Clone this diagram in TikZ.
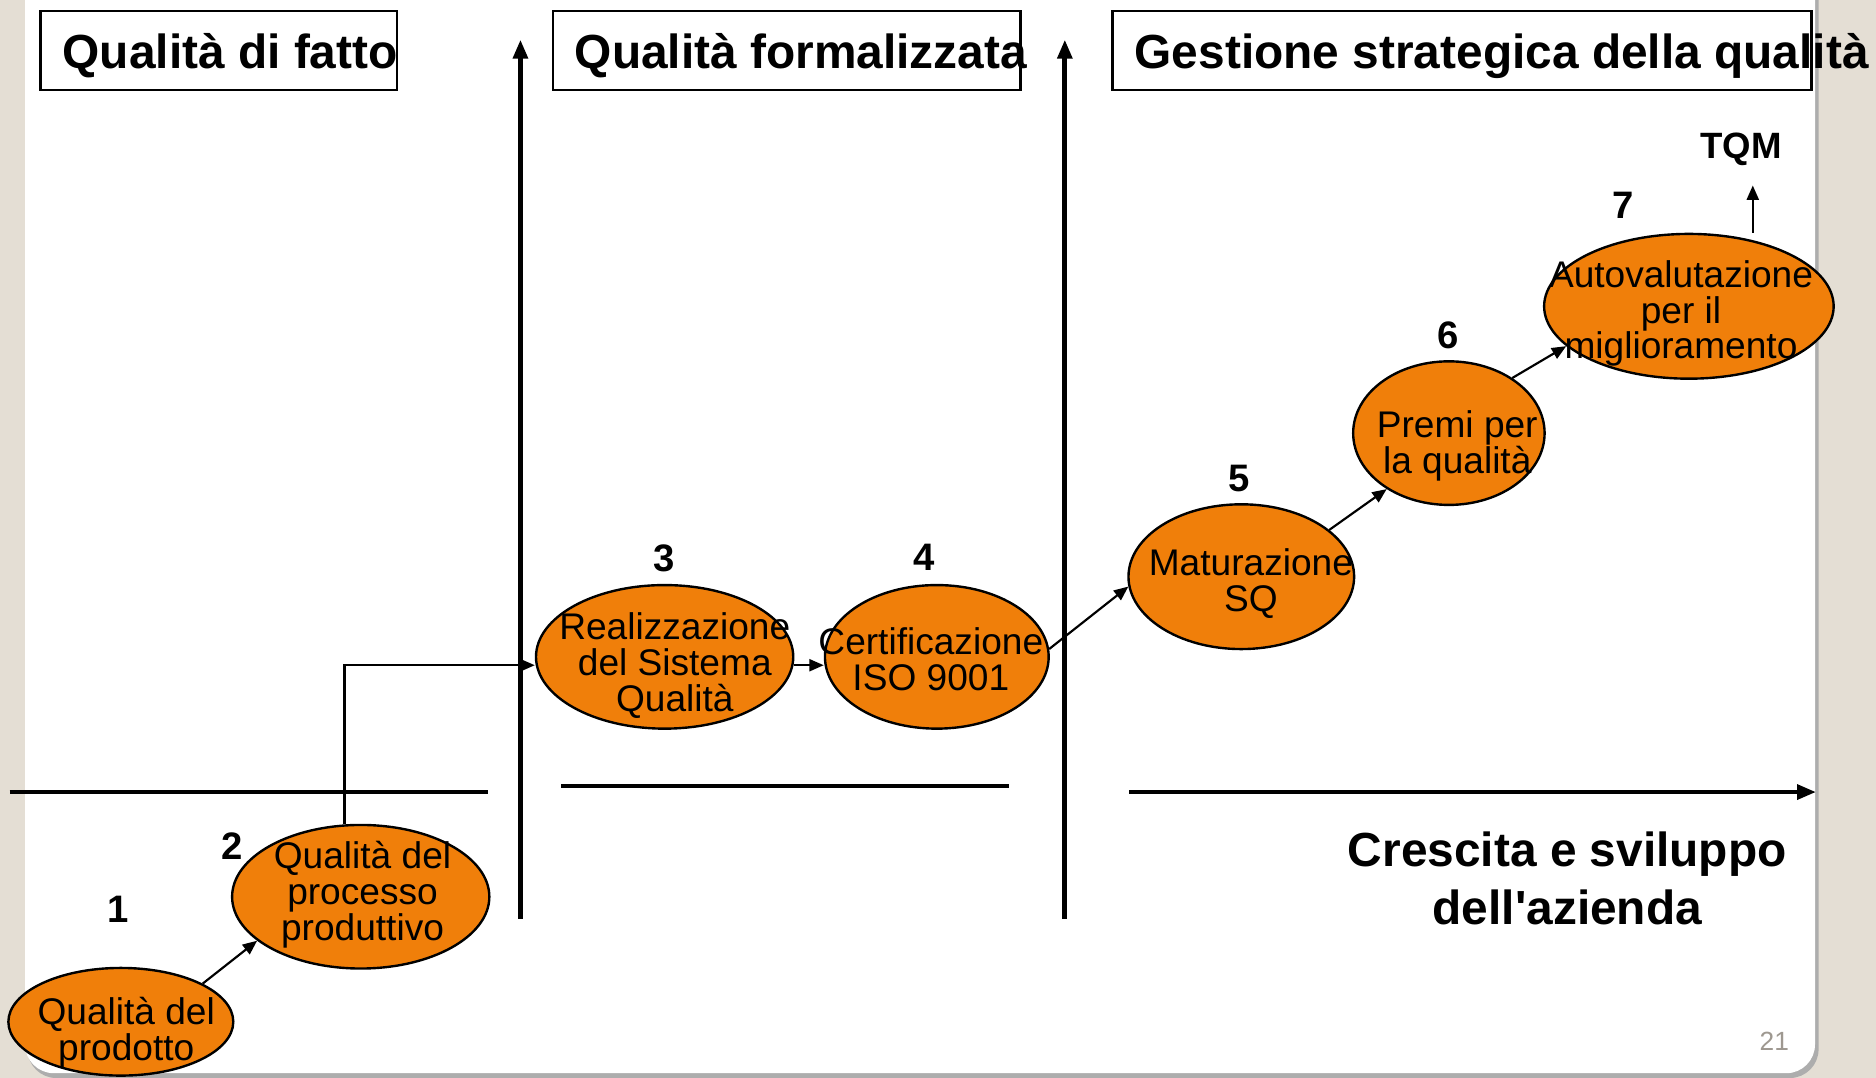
\documentclass[tikz,border=0pt]{standalone}
\usepackage{fontspec}
\setmainfont{Liberation Sans}
\newfontfamily\plainsans{Liberation Sans}
\usetikzlibrary{shapes.geometric,arrows.meta}
\definecolor{bgside}{HTML}{E4DED4}
\definecolor{orangefill}{HTML}{F07F0A}
\definecolor{pagegray}{HTML}{9E9890}
\begin{document}
\begin{tikzpicture}[x=0.5pt,y=-0.5pt,
  stage/.style={ellipse,draw=black,line width=1pt,fill=orangefill,inner sep=0pt},
  stagetext/.style={align=center,inner sep=0pt,font=\fontsize{15.5}{15}\selectfont},
  num/.style={font=\fontsize{16}{19}\bfseries\selectfont,inner sep=0pt},
  titlebox/.style={draw=black,line width=1pt,inner sep=0pt,minimum height=33pt},
  titletext/.style={font=\fontsize{20}{24}\bfseries\selectfont,inner sep=0pt,anchor=base west},
  axis/.style={line width=2pt,-{Triangle[length=8pt,width=6pt]}},
  baseline/.style={line width=2pt},
  link/.style={line width=0.9pt,-{Triangle[length=6pt,width=5pt]}}]
\useasboundingbox (0,0) rectangle (1568,901);
% background and slide
\fill[bgside] (0,0) rectangle (1568,901);
\fill[black!32,rounded corners=12pt] (23,-30) rectangle (1520,901);
\fill[white,rounded corners=12pt] (21,-30) rectangle (1517,897);
% title boxes
\node[titlebox,minimum width=149pt] (b1) at (183,42) {};
\node[titletext] (t1) at (52,57) {Qualità di fatto};
\node[titlebox,minimum width=195.5pt] (b2) at (657.5,42) {};
\node[titletext] (t2) at (480,57) {Qualità formalizzata};
\node[titlebox,minimum width=292pt] (b3) at (1222,42) {};
\node[titletext] (t3) at (948,57) {Gestione strategica della qualità};
% vertical axes
\coordinate (v1b) at (435,768); \coordinate (v1t) at (435,33);
\coordinate (v2b) at (890,768); \coordinate (v2t) at (890,33);
\draw[axis] (v1b) -- (v1t);
\draw[axis] (v2b) -- (v2t);
% horizontal lines
\coordinate (h1a) at (8,662); \coordinate (h1b) at (408,662);
\coordinate (h2a) at (469,657); \coordinate (h2b) at (843,657);
\coordinate (h3a) at (944,662); \coordinate (h3b) at (1518,662);
\draw[baseline] (h1a) -- (h1b);
\draw[baseline] (h2a) -- (h2b);
\draw[axis] (h3a) -- (h3b);
% stages
\node[stage,minimum width=94pt,minimum height=45pt] (e1) at (101,854) {};
\node[stagetext] (s1) at (105.5,863) {Qualità del\\prodotto};
\node[stage,minimum width=107.5pt,minimum height=60pt] (e2) at (301.5,749.5) {};
\node[stagetext] (s2) at (303,748) {Qualità del\\processo\\produttivo};
\node[stage,minimum width=107.5pt,minimum height=60pt] (e3) at (555.5,549) {};
\node[stagetext] (s3) at (564,556) {Realizzazione\\del Sistema\\Qualità};
\node[stage,minimum width=93.5pt,minimum height=60pt] (e4) at (783,549) {};
\node[stagetext] (s4) at (778,551) {Certificazione\\ISO 9001};
\node[stage,minimum width=94.3pt,minimum height=60.5pt] (e5) at (1037.5,482) {};
\node[stagetext] (s5) at (1045.5,488) {Maturazione\\SQ};
\node[stage,minimum width=80pt,minimum height=60pt] (e6) at (1211,362) {};
\node[stagetext] (s6) at (1218,372.5) {Premi per\\la qualità};
\node[stage,minimum width=121pt,minimum height=60.5pt] (e7) at (1411.6,256) {};
\node[stagetext] (s7) at (1405,262) {Autovalutazione\\per il\\miglioramento};
% numbers
\node[num] (n1) at (99,760) {1};
\node[num] (n2) at (194,707) {2};
\node[num] (n3) at (555,467) {3};
\node[num] (n4) at (772,466) {4};
\node[num] (n5) at (1036,400) {5};
\node[num] (n6) at (1210,280) {6};
\node[num] (n7) at (1357,172) {7};
\node[font=\fontsize{15.3}{18}\bfseries\selectfont,inner sep=0pt] (tqm) at (1455,125) {TQM};
% connectors
\draw[link] (e1.25) -- (e2.203);
\coordinate (bend) at (288,556);
\draw[link] (bend |- e2.north) -- (bend) -- (bend -| e3.west);
\draw[link] (bend -| e3.east) -- (bend -| e4.west);
\draw[link] (e4.4) -- (e5.185);
\draw[link] (e5.28) -- (e6.222);
\draw[link] (e6.41) -- (e7.198);
\coordinate (tqmtip) at (1465,155);
\draw[link] (tqmtip |- e7.north) -- (tqmtip);
% growth label
\node[align=center,font=\plainsans\fontsize{20}{24}\bfseries\selectfont,inner sep=0pt] (growth) at (1310,734) {Crescita e sviluppo\\dell'azienda};
% page number
\node[font=\fontsize{11}{13}\selectfont,text=pagegray,inner sep=0pt] (page) at (1483,870) {21};
\end{tikzpicture}
\end{document}
